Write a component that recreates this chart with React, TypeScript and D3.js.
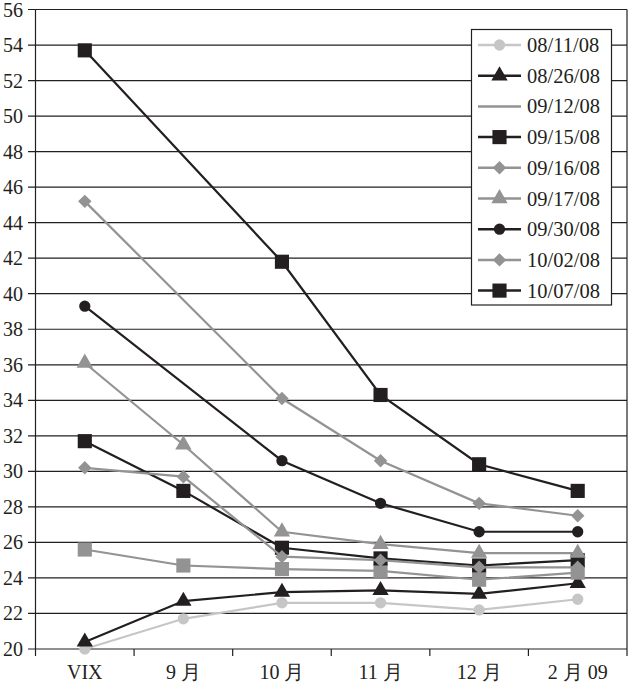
import React from 'react';
import * as d3 from 'd3';

const categories = ['VIX', '9 月', '10 月', '11 月', '12 月', '2 月 09'];
const yTicks = d3.range(20, 57, 2);

const seriesNames = ['08/11/08', '08/26/08', '09/12/08', '09/15/08', '09/16/08', '09/17/08', '09/30/08', '10/02/08', '10/07/08'];

const v0811 = [20.0, 21.7, 22.6, 22.6, 22.2, 22.8];
const v0826 = [20.4, 22.7, 23.2, 23.3, 23.1, 23.7];
const v0912 = [25.6, 24.7, 24.5, 24.4, 23.9, 24.3];
const v0915 = [31.7, 28.9, 25.7, 25.1, 24.7, 25.0];
const v0916 = [30.2, 29.7, 25.2, 25.0, 24.6, 24.6];
const v0917 = [36.1, 31.5, 26.6, 25.9, 25.4, 25.4];
const v0930 = [39.3, null, 30.6, 28.2, 26.6, 26.6];
const v1002 = [45.2, null, 34.1, 30.6, 28.2, 27.5];
const v1007 = [53.7, null, 41.8, 34.3, 30.4, 28.9];

const BLACK = '#231f20';
const GREY = '#939393';
const LIGHT = '#c6c6c6';

type Mark = 'circle' | 'triangle' | 'square' | 'diamond';

const styles: { color: string; mark: Mark; legendMark: boolean }[] = [
  { color: LIGHT, mark: 'circle', legendMark: true },
  { color: BLACK, mark: 'triangle', legendMark: true },
  { color: GREY, mark: 'square', legendMark: false },
  { color: BLACK, mark: 'square', legendMark: true },
  { color: GREY, mark: 'diamond', legendMark: true },
  { color: GREY, mark: 'triangle', legendMark: true },
  { color: BLACK, mark: 'circle', legendMark: true },
  { color: GREY, mark: 'diamond', legendMark: true },
  { color: BLACK, mark: 'square', legendMark: true },
];

const values = [v0811, v0826, v0912, v0915, v0916, v0917, v0930, v1002, v1007];

const W = 632;
const H = 682;
const left = 35.5;
const right = 627;
const top = 9.5;
const bottom = 649;

const FONT = 'Liberation Serif';

const symbolPath = (m: Mark) => {
  const type = m === 'circle' ? d3.symbolCircle : m === 'triangle' ? d3.symbolTriangle : d3.symbolSquare;
  const size = m === 'circle' ? 100 : m === 'triangle' ? 115 : m === 'square' ? 200 : 90;
  return d3.symbol().type(type).size(size)() || '';
};

const Marker: React.FC<{ x: number; y: number; mark: Mark; color: string }> = ({ x, y, mark, color }) => (
  <path
    d={symbolPath(mark)}
    transform={`translate(${x},${y})${mark === 'diamond' ? ' rotate(45)' : ''}`}
    fill={color}
  />
);

export default function App() {
  const x = d3.scaleBand<string>().domain(categories).range([left, right]).padding(0);
  const y = d3.scaleLinear().domain([20, 56]).range([bottom, top]);
  const cx = (c: string) => (x(c) || 0) + x.bandwidth() / 2;

  const line = d3.line<{ c: string; v: number }>()
    .x(d => cx(d.c))
    .y(d => y(d.v));

  const legX = 471.5;
  const legY = 29.5;
  const legRow = 30.7;

  return (
    <svg width={W} height={H} style={{ position: 'absolute', left: 0, top: 0, background: '#fff' }}>
      {/* grid */}
      {yTicks.map(t => (
        <line key={t} x1={28} x2={right} y1={y(t)} y2={y(t)} stroke={BLACK} strokeWidth={1.2} />
      ))}
      <line x1={left} x2={left} y1={top} y2={bottom} stroke={BLACK} strokeWidth={1.2} />
      <line x1={right} x2={right} y1={top} y2={bottom} stroke={BLACK} strokeWidth={1.2} />
      {categories.map(c => (
        <line key={c} x1={x(c) || 0} x2={x(c) || 0} y1={bottom} y2={bottom + 7} stroke={BLACK} strokeWidth={1.2} />
      ))}
      <line x1={right} x2={right} y1={bottom} y2={bottom + 7} stroke={BLACK} strokeWidth={1.2} />

      {/* y labels */}
      {yTicks.map(t => (
        <text key={t} x={23} y={y(t) + 7} fontSize={20} fill={BLACK} textAnchor="end" fontFamily={FONT}>
          {t}
        </text>
      ))}
      {/* x labels */}
      {categories.map(c => (
        <text key={c} x={cx(c)} y={679} fontSize={20} fill={BLACK} textAnchor="middle" fontFamily={FONT}>
          {c}
        </text>
      ))}

      {/* series */}
      {values.map((vals, i) => {
        const pts = categories
          .map((c, j) => ({ c, v: vals[j] as number }))
          .filter(d => d.v !== null && d.v !== undefined);
        const s = styles[i];
        return (
          <g key={seriesNames[i]}>
            <path d={line(pts) || ''} fill="none" stroke={s.color} strokeWidth={2.2} />
            {pts.map(d => (
              <Marker key={d.c} x={cx(d.c)} y={y(d.v)} mark={s.mark} color={s.color} />
            ))}
          </g>
        );
      })}

      {/* legend */}
      <rect x={legX} y={legY} width={140} height={275.5} fill="#fff" stroke={BLACK} strokeWidth={1.2} />
      {seriesNames.map((n, i) => {
        const s = styles[i];
        const ly = legY + 15.5 + i * legRow;
        return (
          <g key={n}>
            <line x1={478} x2={521} y1={ly} y2={ly} stroke={s.color} strokeWidth={2.5} />
            {s.legendMark && <Marker x={499.5} y={ly} mark={s.mark} color={s.color} />}
            <text x={527} y={ly + 7} fontSize={20.5} fill={BLACK} fontFamily={FONT}>
              {n}
            </text>
          </g>
        );
      })}
    </svg>
  );
}
